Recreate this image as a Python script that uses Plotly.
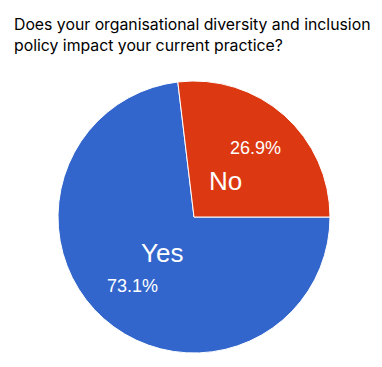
import math
import plotly.graph_objects as go

labels = ["Yes", "No"]
values = [73.1, 26.9]
colors = ["#3366CC", "#DC3912"]
title_text = "Does your organisational diversity and inclusion<br>policy impact your current practice?"

OFF = 8  # page body margin
W, H = 382 - OFF, 367 - OFF
cx, cy, R = 194 - OFF, 217 - OFF, 136  # pie centre and radius in figure pixels
start_deg = 90  # clockwise from 12 o'clock

fig = go.Figure(go.Pie(
    labels=labels, values=values, sort=False, direction="clockwise",
    rotation=start_deg, textinfo="none", hoverinfo="label+percent",
    marker=dict(colors=colors, line=dict(color="white", width=1)),
    domain=dict(x=[(cx - R) / W, (cx + R) / W], y=[1 - (cy + R) / H, 1 - (cy - R) / H]),
    showlegend=False,
))

total = sum(values)
acc = 0.0
for lab, v in zip(labels, values):
    mid = start_deg + (acc + v / 2) / total * 360  # clockwise from top
    acc += v
    a = math.radians(mid)
    for frac, txt, size in [(0.68, f"{v / total * 100:.1f}%", 18), (0.35, lab, 26)]:
        px = cx + frac * R * math.sin(a)
        py = cy - frac * R * math.cos(a)
        fig.add_annotation(x=px / W, y=1 - py / H, xref="paper", yref="paper",
                           xanchor="center", yanchor="middle",
                           text=txt, showarrow=False,
                           font=dict(family="Liberation Sans, Arial", size=size, color="white"))

fig.update_layout(
    width=W, height=H, margin=dict(l=0, r=0, t=0, b=0),
    paper_bgcolor="white", plot_bgcolor="white",
    title=dict(text=title_text, x=(14 - OFF) / W, xanchor="left", xref="container",
               y=1 - 22 / H, yanchor="top", yref="container",
               font=dict(family="Inter", size=15.8, color="#000000")),
)

fig.write_html("out.html")
